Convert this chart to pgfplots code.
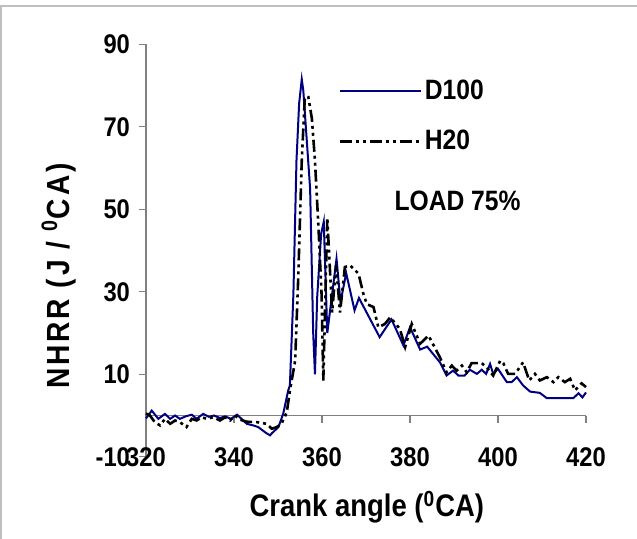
\documentclass[border=0pt]{standalone}
\usepackage{pgfplots}
\pgfplotsset{compat=1.18}
\usepackage{fontspec}
\setmainfont{Liberation Sans}[FakeStretch=0.88]
\definecolor{dblue}{RGB}{0,0,128}
\begin{document}
\begin{tikzpicture}
\path[use as bounding box] (0,0) rectangle (318.5pt,269.5pt);
\draw[black!25, line width=1pt] (0.5pt,0) -- (0.5pt,266.5pt) -- (318.5pt,266.5pt);
\begin{axis}[
    scale only axis,
    width=220pt, height=206.25pt,
    at={(73pt,41.1pt)}, anchor=south west,
    xmin=320, xmax=420, ymin=-10, ymax=90,
    axis y line*=left, axis x line*=bottom,
    x axis line style={draw=none},
    y axis line style={gray, line width=0.6pt, -},
    xtick={320,340,...,420}, ytick={-10,10,...,90},
    xtick style={draw=none},
    ytick style={gray, line width=0.6pt},
    tick align=outside, major tick length=3.5pt,
    /pgf/number format/assume math mode=true,
    /pgf/number format/1000 sep={},
    tick label style={font=\bfseries\fontsize{13.5}{15}\selectfont},
    xticklabel style={anchor=center, yshift=3.5pt},
    yticklabel style={xshift=-1pt},
    xlabel={Crank angle (\textsuperscript{0}CA)},
    xlabel style={at={(axis description cs:0.502,-0.122)}, anchor=center,
      font=\bfseries\fontsize{15.6}{18}\selectfont},
    ylabel={NHRR (J / \textsuperscript{0}CA)},
    ylabel style={at={(axis description cs:-0.198,0.438)}, anchor=center,
      font=\bfseries\fontsize{16}{18}\selectfont\addfontfeature{LetterSpace=9}},
    legend style={at={(axis description cs:0.436,0.922)}, anchor=north west,
      draw=none, fill=none, inner sep=0pt, row sep=11pt,
      font=\bfseries\fontsize{14}{16}\selectfont,
      nodes={inner sep=1.5pt}},
    legend cell align=left,
    legend image code/.code={\draw[#1] (0pt,0pt) -- (40.5pt,0pt);},
    clip=false,
]
\draw[gray, line width=0.6pt] (axis cs:320,0) -- (axis cs:420,0);
\pgfplotsinvokeforeach{340,360,380,400,420}{
  \draw[gray, line width=0.6pt] (axis cs:#1,0) -- (axis cs:#1,-1.9);
}
\addplot[draw=dblue, line width=1pt] coordinates {
 (320,-0.7) (321.3,1.2) (322.8,-0.8) (324.3,0.4) (325.5,-0.8) (326.6,0)
 (327.7,-0.8) (329,-0.2) (330.4,0.2) (331.5,-0.8) (333,0.4) (334.3,-0.3)
 (335.5,0) (336.8,-0.6) (338,-0.2) (339.3,-0.8) (340.7,0.2) (341.4,-0.5)
 (342.9,-2) (344.4,-2.4) (345.5,-2.8) (347.4,-4.3) (348.2,-4.8) (348.6,-4.3)
 (350.1,-2.8) (351.2,0.5) (352.3,6) (352.7,7.3) (353.5,29.5) (354.2,61.8)
 (354.8,75.6) (355.4,81.5) (355.75,78.8) (357.3,55) (358,20) (358.4,10)
 (358.9,28.6) (359.8,44) (360.4,47) (361.2,20) (363.3,38) (364.2,27.5)
 (365.5,34.5) (367.4,25.5) (368.4,28.5) (373.1,19) (375.8,23.3) (378.5,17)
 (380,21.4) (382.3,16) (383.9,16.7) (386.8,12.9) (388.3,9.7) (389.8,10.9)
 (391,9.7) (392.4,9.7) (393.6,11.1) (395.2,10.1) (396.3,11.1) (397.3,10.1)
 (398.2,12.5) (398.9,10.1) (400,11.3) (402,8.1) (403.1,8.1) (404.3,9.3)
 (405.7,7.3) (407.3,5.8) (409.5,5.5) (411.1,4.2) (417.1,4.2) (418.3,5.4)
 (419.2,4.4) (420,5.6)
};
\addlegendentry{D100}
\addplot[draw=black, line width=1.3pt,
  dash pattern=on 6pt off 2pt on 1.5pt off 2pt on 1.5pt off 2pt] coordinates {
 (320,0.5) (320.9,0) (322,-1.6) (323.2,-2.4) (324.3,-0.8) (325.5,-2)
 (326.6,-1.2) (327.7,-1.6) (329.2,-2.8) (330.4,-0.8) (331.5,-1.2) (332.7,-0.4)
 (333.8,-0.8) (335.3,-0.4) (336.8,-1.2) (338,-0.4) (339.1,-1.2) (340.2,0)
 (341.4,-1) (342.9,-1.5) (345.2,-1.6) (347.4,-2) (348.6,-3.2) (349.7,-2.8)
 (350.8,-2) (352,0.8) (352.7,6) (353.9,13.3) (354.6,33.5) (355.4,61.8)
 (356.1,77.2) (356.9,77.2) (357.7,72) (358.4,61.8) (359.2,45.6) (359.9,29.5)
 (360.3,8.5) (361.2,48) (362.3,25) (363.2,36.5) (364.1,25) (365.2,36)
 (366.4,36.4) (368.3,34.4) (369.4,29.5) (370.2,27) (371.7,26.3) (372.8,21.4)
 (374.3,22.2) (375.5,23.8) (377.7,21) (378.9,16.6) (380.4,22.2) (382.3,17.4)
 (384.2,19.4) (386.8,14.1) (388.3,10.5) (389.5,12.1) (390.6,10.9) (391.8,12.1)
 (392.9,10.5) (394,12.7) (396.3,12.7) (397.4,11.7) (398.9,9.7) (400.5,13.3)
 (401.2,12.7) (402.3,10.1) (403.9,10.1) (405.7,12.9) (407.1,8.5) (408.4,10.1)
 (409.5,8.5) (411.1,9.3) (412.6,8.1) (413.7,9.3) (415.2,8.1) (416.4,8.9)
 (417.5,6.1) (419,7.8) (420,6.9)
};
\addlegendentry{H20}
\node[font=\bfseries\fontsize{14}{16}\selectfont, anchor=center]
  at (axis cs:390.8,52.1) {LOAD 75\%};
\end{axis}
\end{tikzpicture}
\end{document}
